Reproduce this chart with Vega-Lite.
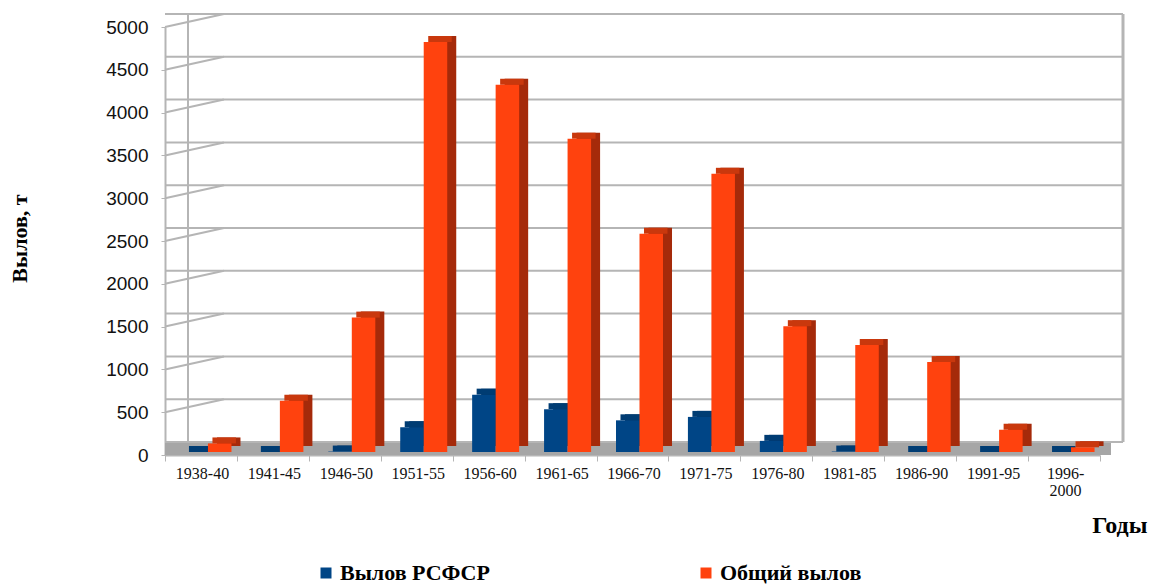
{
  "$schema": "https://vega.github.io/schema/vega-lite/v6.json",
  "width": 935,
  "height": 428,
  "autosize": {"type": "none"},
  "padding": {"left": 165, "top": 27, "right": 51, "bottom": 130},
  "background": "white",
  "config": {"view": {"stroke": null}, "font": "Liberation Serif"},
  "datasets": {
    "fish": [
      {"period": "1938-40", "series": "Вылов РСФСР", "v": 0},
      {"period": "1938-40", "series": "Общий вылов", "v": 100},
      {"period": "1941-45", "series": "Вылов РСФСР", "v": 0},
      {"period": "1941-45", "series": "Общий вылов", "v": 600},
      {"period": "1946-50", "series": "Вылов РСФСР", "v": 5},
      {"period": "1946-50", "series": "Общий вылов", "v": 1570},
      {"period": "1951-55", "series": "Вылов РСФСР", "v": 290},
      {"period": "1951-55", "series": "Общий вылов", "v": 4790},
      {"period": "1956-60", "series": "Вылов РСФСР", "v": 670},
      {"period": "1956-60", "series": "Общий вылов", "v": 4290},
      {"period": "1961-65", "series": "Вылов РСФСР", "v": 500},
      {"period": "1961-65", "series": "Общий вылов", "v": 3660},
      {"period": "1966-70", "series": "Вылов РСФСР", "v": 370},
      {"period": "1966-70", "series": "Общий вылов", "v": 2550},
      {"period": "1971-75", "series": "Вылов РСФСР", "v": 410},
      {"period": "1971-75", "series": "Общий вылов", "v": 3250},
      {"period": "1976-80", "series": "Вылов РСФСР", "v": 130},
      {"period": "1976-80", "series": "Общий вылов", "v": 1470},
      {"period": "1981-85", "series": "Вылов РСФСР", "v": 5},
      {"period": "1981-85", "series": "Общий вылов", "v": 1250},
      {"period": "1986-90", "series": "Вылов РСФСР", "v": 0},
      {"period": "1986-90", "series": "Общий вылов", "v": 1050},
      {"period": "1991-95", "series": "Вылов РСФСР", "v": 0},
      {"period": "1991-95", "series": "Общий вылов", "v": 260},
      {"period": "1996-2000", "series": "Вылов РСФСР", "v": 0},
      {"period": "1996-2000", "series": "Общий вылов", "v": 55}
    ],
    "grid": [
      {"v": 0}, {"v": 500}, {"v": 1000}, {"v": 1500}, {"v": 2000}, {"v": 2500},
      {"v": 3000}, {"v": 3500}, {"v": 4000}, {"v": 4500}, {"v": 5000}
    ]
  },
  "layer": [
    {
      "data": {"name": "grid"},
      "mark": {"type": "rule", "color": "#b5b5b5", "strokeWidth": 2, "xOffset": 23, "yOffset": -13},
      "encoding": {
        "y": {
          "field": "v",
          "type": "quantitative",
          "scale": {"domain": [0, 5000], "nice": false, "zero": true},
          "axis": {
            "title": "Вылов, т",
            "values": [0, 500, 1000, 1500, 2000, 2500, 3000, 3500, 4000, 4500, 5000],
            "format": "d",
            "grid": false,
            "labelFont": "Liberation Sans",
            "labelFontSize": 19,
            "labelColor": "#111111",
            "labelPadding": 13,
            "tickSize": 4,
            "tickColor": "#b5b5b5",
            "domainColor": "#b5b5b5",
            "domainWidth": 2,
            "titleFont": "Liberation Serif",
            "titleFontWeight": "bold",
            "titleFontSize": 22,
            "titleColor": "#000000",
            "titleAngle": -90,
            "titleX": -139,
            "titleY": 211,
            "titleAlign": "center",
            "titleBaseline": "alphabetic"
          }
        }
      }
    },
    {
      "data": {"name": "grid"},
      "mark": {"type": "rule", "color": "#b5b5b5", "strokeWidth": 2, "x2Offset": 23, "y2Offset": -13},
      "encoding": {
        "x": {"datum": "1938-40", "bandPosition": 0},
        "x2": {"datum": "1938-40"},
        "y": {"field": "v", "type": "quantitative"},
        "y2": {"field": "v"}
      }
    },
    {
      "data": {"name": "grid"},
      "transform": [{"filter": "datum.v == 0"}],
      "mark": {"type": "rule", "color": "#a6a6a6", "strokeWidth": 12, "xOffset": 11, "yOffset": -6},
      "encoding": {"y": {"field": "v", "type": "quantitative"}}
    },
    {
      "data": {"name": "grid"},
      "transform": [{"filter": "datum.v == 0"}],
      "mark": {"type": "rule", "color": "#b5b5b5", "strokeWidth": 2, "xOffset": 23, "yOffset": -13, "y2Offset": -13},
      "encoding": {
        "x": {"datum": "1938-40", "bandPosition": 0},
        "y": {"field": "v", "type": "quantitative"},
        "y2": {"datum": 5000}
      }
    },
    {
      "data": {"name": "grid"},
      "transform": [{"filter": "datum.v == 0"}],
      "mark": {"type": "rule", "color": "#b5b5b5", "strokeWidth": 3, "xOffset": 23, "yOffset": -13, "y2Offset": -13},
      "encoding": {
        "x": {"datum": "1996-2000", "bandPosition": 1},
        "y": {"field": "v", "type": "quantitative"},
        "y2": {"datum": 5000}
      }
    },
    {
      "data": {"name": "fish"},
      "transform": [{"filter": "datum.series == 'Вылов РСФСР'"}],
      "mark": {"type": "bar", "color": "#00335f", "xOffset": 4.25, "yOffset": -9, "y2Offset": -9, "width": {"band": 0.327}},
      "encoding": {
        "x": {"field": "period", "type": "nominal", "sort": null},
        "y": {"field": "v", "type": "quantitative"}
      }
    },
    {
      "data": {"name": "fish"},
      "transform": [{"filter": "datum.series == 'Вылов РСФСР'"}],
      "mark": {"type": "bar", "color": "#003c73", "xOffset": -0.25, "yOffset": -9, "y2Offset": -3, "width": {"band": 0.327}},
      "encoding": {
        "x": {"field": "period", "type": "nominal", "sort": null},
        "y": {"field": "v", "type": "quantitative"},
        "y2": {"field": "v"}
      }
    },
    {
      "data": {"name": "fish"},
      "transform": [{"filter": "datum.series == 'Вылов РСФСР'"}],
      "mark": {"type": "bar", "xOffset": -4.75, "yOffset": -3, "y2Offset": -3, "width": {"band": 0.327}},
      "encoding": {
        "x": {
          "field": "period",
          "type": "nominal",
          "sort": null,
          "scale": {
            "domain": ["1938-40", "1941-45", "1946-50", "1951-55", "1956-60", "1961-65", "1966-70", "1971-75", "1976-80", "1981-85", "1986-90", "1991-95", "1996-2000"],
            "paddingInner": 0,
            "paddingOuter": 0
          },
          "axis": {
            "title": "Годы",
            "tickBand": "extent",
            "labelAngle": 0,
            "labelAlign": "center",
            "labelOffset": 1,
            "labelFont": "Liberation Serif",
            "labelFontSize": 16,
            "labelColor": "#111111",
            "labelPadding": 12,
            "labelLineHeight": 17,
            "labelExpr": "datum.value == '1996-2000' ? ['1996-', '2000'] : datum.value",
            "tickSize": 6,
            "tickColor": "#b5b5b5",
            "domainColor": "#b5b5b5",
            "domainWidth": 2,
            "titleFont": "Liberation Serif",
            "titleFontWeight": "bold",
            "titleFontSize": 24,
            "titleColor": "#000000",
            "titleX": 982,
            "titleY": 77,
            "titleAlign": "right",
            "titleBaseline": "alphabetic"
          }
        },
        "y": {"field": "v", "type": "quantitative"},
        "color": {
          "field": "series",
          "type": "nominal",
          "scale": {"domain": ["Вылов РСФСР", "Общий вылов"], "range": ["#004586", "#ff420e"]},
          "legend": {
            "orient": "none",
            "legendX": 150,
            "legendY": 535,
            "direction": "horizontal",
            "title": null,
            "symbolType": "square",
            "symbolSize": 121,
            "symbolStrokeWidth": 0,
            "labelFont": "Liberation Serif",
            "labelFontWeight": "bold",
            "labelFontSize": 22,
            "labelColor": "#000000",
            "labelOffset": 3,
            "labelLimit": 400,
            "columnPadding": 205
          }
        }
      }
    },
    {
      "data": {"name": "fish"},
      "transform": [{"filter": "datum.series == 'Общий вылов'"}],
      "mark": {"type": "bar", "color": "#a52a0a", "xOffset": 27.75, "yOffset": -9, "y2Offset": -9, "width": {"band": 0.327}},
      "encoding": {
        "x": {"field": "period", "type": "nominal", "sort": null},
        "y": {"field": "v", "type": "quantitative"}
      }
    },
    {
      "data": {"name": "fish"},
      "transform": [{"filter": "datum.series == 'Общий вылов'"}],
      "mark": {"type": "bar", "color": "#c9380d", "xOffset": 23.25, "yOffset": -9, "y2Offset": -3, "width": {"band": 0.327}},
      "encoding": {
        "x": {"field": "period", "type": "nominal", "sort": null},
        "y": {"field": "v", "type": "quantitative"},
        "y2": {"field": "v"}
      }
    },
    {
      "data": {"name": "fish"},
      "transform": [{"filter": "datum.series == 'Общий вылов'"}],
      "mark": {"type": "bar", "xOffset": 18.75, "yOffset": -3, "y2Offset": -3, "width": {"band": 0.327}},
      "encoding": {
        "x": {"field": "period", "type": "nominal", "sort": null},
        "y": {"field": "v", "type": "quantitative"},
        "color": {"field": "series", "type": "nominal"}
      }
    }
  ]
}
